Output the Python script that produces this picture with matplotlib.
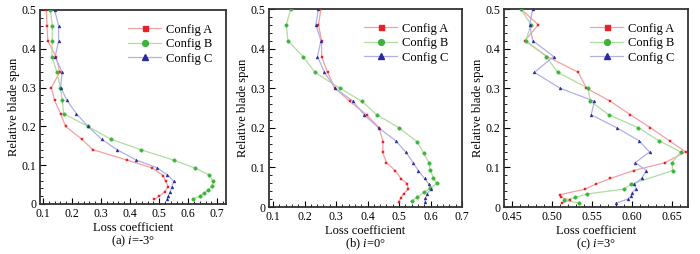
import matplotlib
matplotlib.use("Agg")
import matplotlib.pyplot as plt
from matplotlib.ticker import MultipleLocator, FormatStrFormatter

plt.rcParams['font.family'] = ['Liberation Serif', 'DejaVu Serif']
plt.rcParams['mathtext.fontset'] = 'custom'
plt.rcParams['mathtext.rm'] = 'Liberation Serif'
plt.rcParams['mathtext.it'] = 'Liberation Serif:italic'

series_names = ["Config A", "Config B", "Config C"]
captions = ["(a) $i$=-3°", "(b) $i$=0°", "(c) $i$=3°"]

# panel (a) i=-3
a_span_A = [0.5, 0.46, 0.42, 0.38, 0.34, 0.30, 0.267, 0.233, 0.2, 0.167, 0.14, 0.113, 0.093, 0.073, 0.059, 0.045, 0.032, 0.02, 0.012]
a_loss_A = [0.112, 0.114, 0.117, 0.145, 0.158, 0.129, 0.140, 0.161, 0.178, 0.234, 0.272, 0.390, 0.476, 0.514, 0.522, 0.531, 0.520, 0.500, 0.483]
a_span_B = [0.5, 0.46, 0.42, 0.38, 0.34, 0.30, 0.267, 0.233, 0.2, 0.167, 0.14, 0.113, 0.093, 0.075, 0.059, 0.046, 0.036, 0.028, 0.02, 0.013]
a_loss_B = [0.126, 0.132, 0.132, 0.131, 0.148, 0.160, 0.167, 0.171, 0.255, 0.334, 0.437, 0.550, 0.622, 0.672, 0.686, 0.682, 0.668, 0.656, 0.640, 0.615]
a_span_C = [0.5, 0.46, 0.42, 0.38, 0.34, 0.30, 0.267, 0.233, 0.2, 0.167, 0.14, 0.113, 0.093, 0.075, 0.059, 0.045, 0.032, 0.02, 0.012]
a_loss_C = [0.140, 0.154, 0.154, 0.142, 0.166, 0.161, 0.183, 0.215, 0.255, 0.302, 0.355, 0.422, 0.494, 0.528, 0.550, 0.544, 0.538, 0.531, 0.528]

# panel (b) i=0
b_span_A = [0.5, 0.46, 0.42, 0.38, 0.34, 0.30, 0.267, 0.233, 0.2, 0.165, 0.138, 0.112, 0.092, 0.071, 0.059, 0.045, 0.034, 0.022, 0.012]
b_loss_A = [0.252, 0.244, 0.254, 0.254, 0.273, 0.297, 0.343, 0.397, 0.437, 0.449, 0.448, 0.460, 0.488, 0.507, 0.526, 0.529, 0.515, 0.505, 0.499]
b_span_B = [0.5, 0.46, 0.42, 0.38, 0.34, 0.30, 0.267, 0.233, 0.2, 0.165, 0.137, 0.112, 0.094, 0.074, 0.06, 0.047, 0.037, 0.024, 0.015]
b_loss_B = [0.156, 0.142, 0.147, 0.195, 0.233, 0.312, 0.382, 0.429, 0.500, 0.557, 0.578, 0.595, 0.599, 0.609, 0.620, 0.598, 0.580, 0.556, 0.540]
b_span_C = [0.5, 0.46, 0.42, 0.38, 0.34, 0.30, 0.267, 0.233, 0.2, 0.167, 0.138, 0.112, 0.092, 0.072, 0.059, 0.045, 0.034, 0.022, 0.012]
b_loss_C = [0.244, 0.236, 0.252, 0.241, 0.263, 0.297, 0.354, 0.389, 0.435, 0.490, 0.522, 0.545, 0.561, 0.581, 0.594, 0.600, 0.590, 0.584, 0.582]

# panel (c) i=3
c_span_A = [0.5, 0.46, 0.42, 0.38, 0.34, 0.30, 0.267, 0.233, 0.2, 0.167, 0.139, 0.112, 0.092, 0.072, 0.058, 0.045, 0.031, 0.025, 0.017, 0.01]
c_loss_A = [0.461, 0.483, 0.466, 0.494, 0.533, 0.543, 0.573, 0.598, 0.623, 0.647, 0.667, 0.641, 0.602, 0.573, 0.555, 0.541, 0.510, 0.511, 0.522, 0.512]
c_span_B = [0.5, 0.46, 0.42, 0.38, 0.34, 0.30, 0.267, 0.233, 0.2, 0.167, 0.139, 0.112, 0.092, 0.058, 0.045, 0.033, 0.024, 0.017, 0.01]
c_loss_B = [0.461, 0.474, 0.467, 0.493, 0.507, 0.545, 0.548, 0.571, 0.608, 0.634, 0.661, 0.650, 0.651, 0.599, 0.590, 0.544, 0.529, 0.515, 0.534]
c_span_C = [0.5, 0.46, 0.42, 0.38, 0.34, 0.30, 0.267, 0.233, 0.2, 0.167, 0.139, 0.112, 0.092, 0.072, 0.058, 0.046, 0.036, 0.028, 0.02, 0.01]
c_loss_C = [0.476, 0.472, 0.476, 0.502, 0.478, 0.510, 0.553, 0.549, 0.581, 0.609, 0.622, 0.604, 0.618, 0.612, 0.603, 0.605, 0.600, 0.599, 0.595, 0.580]

panels = [
    ((a_loss_A, a_span_A), (a_loss_B, a_span_B), (a_loss_C, a_span_C)),
    ((b_loss_A, b_span_A), (b_loss_B, b_span_B), (b_loss_C, b_span_C)),
    ((c_loss_A, c_span_A), (c_loss_B, c_span_B), (c_loss_C, c_span_C)),
]

line_colors = ['#f4a0a0', '#b0dca0', '#b0b0e4']
marker_colors = ['#e8202a', '#3cb43c', '#2a2a9c']
markers = ['s', 'o', '^']
msizes = [1.9, 2.5, 2.1]
leg_sizes = [3.6, 4.2, 4.0]

W, H = 700, 254
boxes = [(40, 226, 10, 204), (269, 462, 9, 207), (504, 688, 9, 207)]
xlims = [(0.09, 0.73), (0.087, 0.70), (0.44, 0.67)]
xmajor = [0.1, 0.1, 0.05]
xminor = [0.02, 0.02, 0.01]
xfmt = ['%.1f', '%.1f', '%.2f']

fig = plt.figure(figsize=(W / 100, H / 100), dpi=100)

for k, (l, r, t, b) in enumerate(boxes):
    ax = fig.add_axes([l / W, 1 - b / H, (r - l) / W, (b - t) / H])
    for j in range(3):
        xs, ys = panels[k][j]
        ax.plot(xs, ys, color=line_colors[j], lw=0.9, zorder=2)
        ax.plot(xs, ys, ls='none', marker=markers[j], ms=msizes[j],
                mfc=marker_colors[j], mec=marker_colors[j], mew=0.3, zorder=3)
    # legend proxies
    handles = []
    for j in range(3):
        h, = ax.plot([], [], color=line_colors[j], lw=0.9, marker=markers[j],
                     ms=leg_sizes[j], mfc=marker_colors[j], mec=marker_colors[j])
        handles.append(h)
    ax.legend(handles, series_names, loc='upper right', frameon=False, fontsize=9,
              handlelength=2.6, handletextpad=0.4, labelspacing=0.2,
              borderaxespad=0.7, numpoints=1)
    ax.set_xlim(*xlims[k])
    ax.set_ylim(0, 0.5)
    ax.xaxis.set_major_locator(MultipleLocator(xmajor[k]))
    ax.xaxis.set_minor_locator(MultipleLocator(xminor[k]))
    ax.xaxis.set_major_formatter(FormatStrFormatter(xfmt[k]))
    ax.yaxis.set_major_locator(MultipleLocator(0.1))
    ax.yaxis.set_minor_locator(MultipleLocator(0.02))
    ax.set_yticks([0, 0.1, 0.2, 0.3, 0.4, 0.5])
    ax.set_yticklabels(['0', '0.1', '0.2', '0.3', '0.4', '0.5'])
    ax.tick_params(which='both', direction='in', top=False, right=False, labelsize=8.5)
    ax.tick_params(axis='x', which='major', pad=3)
    ax.tick_params(axis='y', which='major', pad=2.5)
    ax.tick_params(which='major', length=4, width=0.8)
    ax.tick_params(which='minor', length=2, width=0.6)
    for side in ax.spines:
        ax.spines[side].set_linewidth(1.3)
        ax.spines[side].set_color('#333333')
    ax.set_ylabel('Relative blade span', fontsize=9, labelpad=1.5)
    ax.set_xlabel('Loss coefficient', fontsize=9, labelpad=1)
    fig.text((l + r) / 2 / W, 1 - min(b + 37, 244) / H, captions[k],
             ha='center', va='center', fontsize=9)

fig.savefig('out.png', dpi=100)
